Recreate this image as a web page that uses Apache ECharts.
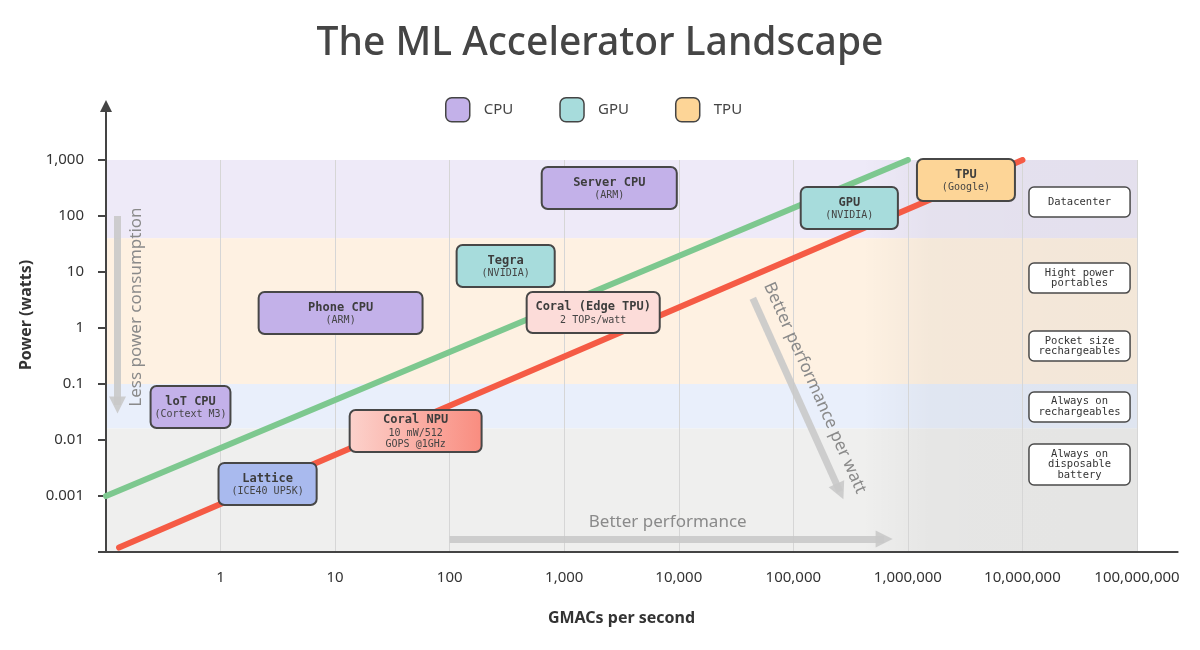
<!DOCTYPE html>
<html lang="en">
<head>
<meta charset="UTF-8">
<script src="https://cdn.jsdelivr.net/npm/echarts@6/dist/echarts.min.js"></script>
<title>The ML Accelerator Landscape</title>
<style>html,body{margin:0;padding:0;background:#fff;}</style>
</head>
<body>
<div id="main" style="width:1200px;height:650px;"></div>
<script type="text/javascript">
// axis tick labels (decades)
var xTickLabels = ['1', '10', '100', '1,000', '10,000', '100,000', '1,000,000', '10,000,000', '100,000,000'];
var yTickLabels = ['0.001', '0.01', '0.1', '1', '10', '100', '1,000'];

// accelerators: [GMACs from, GMACs to, watts from, watts to]
var cpuNames = ['Server CPU', 'Phone CPU', 'loT CPU'];
var cpuNotes = ['(ARM)', '(ARM)', '(Cortext M3)'];
var cpuBoxes = [[636, 9610, 133, 750], [2.15, 58, 0.78, 4.4], [0.245, 1.22, 0.0164, 0.092]];

var gpuNames = ['GPU', 'Tegra'];
var gpuNotes = ['(NVIDIA)', '(NVIDIA)'];
var gpuBoxes = [[116000, 818000, 58.6, 330], [115, 826, 5.4, 30.3]];

var tpuNames = ['TPU'];
var tpuNotes = ['(Google)'];
var tpuBoxes = [[1.2e6, 8.6e6, 185, 1040]];

var otherNames = ['Coral (Edge TPU)', 'Coral NPU', 'Lattice'];
var otherNotes = ['2 TOPs/watt', '10 mW/512\nGOPS @1GHz', '(ICE40 UP5K)'];
var otherBoxes = [[470, 6820, 0.815, 4.4], [13.4, 190, 0.0061, 0.0343], [0.96, 6.9, 0.00069, 0.0039]];

// power classes on the right
var classNames = ['Datacenter', 'Hight power\nportables', 'Pocket size\nrechargeables', 'Always on\nrechargeables', 'Always on\ndisposable\nbattery'];
var classBoxes = [[1.14e7, 8.7e7, 96, 330], [1.14e7, 8.7e7, 4.2, 14.5], [1.14e7, 8.7e7, 0.258, 0.88],
                  [1.14e7, 8.7e7, 0.021, 0.072], [1.14e7, 8.7e7, 0.00157, 0.0085]];

// background bands (watts)
var bandLow = [40, 0.1, 0.016, 0.0001];
var bandHigh = [1000, 40, 0.1, 0.016];

// efficiency trend lines
var greenLine = [[0.1, 0.001], [1e6, 1000]];
var redLine = [[0.13, 0.00012], [1e7, 1000]];

// annotations
var noteTexts = ['Less power consumption', 'Better performance', 'Better performance per watt'];
var notePoints = [[0.185, 2.37], [8010, 0.00034], [154000, 0.085]];
var noteAngles = [90, 0, -66];
var arrowPaths = [
    [[0.126, 100], [0.126, 0.042]],
    [[100, 0.00017], [620000, 0.00017]],
    [[44300, 3.4], [255000, 0.0012]]
];

var X_MIN = 0.1, X_MAX = 1e8, Y_MIN = 1e-4, Y_MAX = 1e3;
var SANS = "'Noto Sans', 'Open Sans', sans-serif";
var MONO = "'DejaVu Sans Mono', monospace";
var bandColors = ['#EEEAF8', '#FEF1E2', '#E9EFFB', '#EFEFEE'];
var otherFills = ['#FCDCD9',
    new echarts.graphic.LinearGradient(0, 0, 1, 0, [{offset: 0, color: '#FCD2CC'}, {offset: 1, color: '#F98C7F'}]),
    '#A9BAEE'];

function boxRenderer(names, notes, fills) {
    return function (params, api) {
        var i = params.dataIndex;
        var a = api.coord([api.value(0), api.value(3)]);
        var b = api.coord([api.value(1), api.value(2)]);
        var txt = '{t|' + names[i] + '}';
        notes[i].split('\n').forEach(function (s) { txt += '\n{s|' + s + '}'; });
        return {
            type: 'group',
            children: [{
                type: 'rect',
                shape: {x: a[0], y: a[1], width: b[0] - a[0], height: b[1] - a[1], r: 6},
                style: {fill: fills ? fills[i] : api.visual('color'), stroke: '#474747', lineWidth: 2}
            }, {
                type: 'text',
                x: (a[0] + b[0]) / 2, y: (a[1] + b[1]) / 2,
                style: {
                    text: txt, align: 'center', verticalAlign: 'middle',
                    rich: {
                        t: {fontFamily: MONO, fontWeight: 'bold', fontSize: 12, fill: '#3d3d3d', lineHeight: 15},
                        s: {fontFamily: MONO, fontSize: 10, fill: '#444', lineHeight: 11}
                    }
                }
            }]
        };
    };
}

function classRenderer(params, api) {
    var i = params.dataIndex;
    var a = api.coord([api.value(0), api.value(3)]);
    var b = api.coord([api.value(1), api.value(2)]);
    return {
        type: 'group',
        children: [{
            type: 'rect',
            shape: {x: a[0], y: a[1], width: b[0] - a[0], height: b[1] - a[1], r: 5},
            style: {fill: '#fff', stroke: '#4a4a4a', lineWidth: 1.5}
        }, {
            type: 'text',
            x: (a[0] + b[0]) / 2, y: (a[1] + b[1]) / 2,
            style: {text: classNames[i], align: 'center', verticalAlign: 'middle',
                    fontFamily: MONO, fontSize: 10.5, lineHeight: 10.5, fill: '#333'}
        }]
    };
}

function bandRenderer(params, api) {
    var a = api.coord([X_MIN, api.value(1)]);
    var b = api.coord([X_MAX, api.value(0)]);
    return {
        type: 'rect',
        shape: {x: a[0], y: a[1], width: b[0] - a[0], height: b[1] - a[1]},
        style: {fill: bandColors[params.dataIndex]}
    };
}

function shadeRenderer(params, api) {
    var a = api.coord([api.value(0), Y_MAX]);
    var b = api.coord([api.value(1), Y_MIN]);
    return {
        type: 'rect',
        shape: {x: a[0], y: a[1], width: b[0] - a[0], height: b[1] - a[1]},
        style: {fill: new echarts.graphic.LinearGradient(0, 0, 1, 0, [
            {offset: 0, color: 'rgba(0,0,0,0)'}, {offset: 0.25, color: 'rgba(0,0,0,0.04)'}, {offset: 1, color: 'rgba(0,0,0,0.045)'}])}
    };
}

function noteRenderer(params, api) {
    var i = params.dataIndex;
    var p = api.coord([api.value(0), api.value(1)]);
    return {
        type: 'text', x: p[0], y: p[1], rotation: noteAngles[i] * Math.PI / 180,
        style: {text: noteTexts[i], align: 'center', verticalAlign: 'middle',
                fontFamily: SANS, fontSize: 17, fill: '#8a8a8a'}
    };
}

var chart = echarts.init(document.getElementById('main'));
chart.setOption({
    animation: false,
    title: {
        text: 'The ML Accelerator Landscape',
        left: 'center', top: 19,
        textStyle: {fontFamily: SANS, fontSize: 39, fontWeight: 500, color: '#454545'}
    },
    legend: {
        data: ['CPU', 'GPU', 'TPU'],
        top: 92, left: 440,
        icon: 'roundRect', itemWidth: 24, itemHeight: 24, itemGap: 46,
        itemStyle: {borderColor: '#444', borderWidth: 1.5},
        textStyle: {fontFamily: SANS, fontSize: 15, color: '#444', padding: [0, 0, 0, 9]}
    },
    grid: {left: 106, right: 63, top: 160, bottom: 98},
    xAxis: {
        type: 'log', logBase: 10, min: X_MIN, max: X_MAX, z: 3,
        axisLine: {lineStyle: {color: '#444', width: 2}},
        axisTick: {show: false},
        axisLabel: {
            margin: 18, color: '#333', fontSize: 15, fontFamily: SANS,
            formatter: function (v) {
                var k = Math.round(Math.log10(v));
                return k >= 0 ? xTickLabels[k] : '';
            }
        },
        splitLine: {show: true, lineStyle: {color: '#d6d6d6', width: 1}},
        name: 'GMACs per second', nameLocation: 'middle', nameGap: 58,
        nameTextStyle: {fontFamily: SANS, fontSize: 16, fontWeight: 'bold', color: '#333'}
    },
    yAxis: {
        type: 'log', logBase: 10, min: Y_MIN, max: Y_MAX, z: 3,
        axisLine: {lineStyle: {color: '#444', width: 2}},
        axisTick: {show: true, length: 8, lineStyle: {color: '#444', width: 2}},
        axisLabel: {
            margin: 22, color: '#333', fontSize: 15, fontFamily: SANS,
            formatter: function (v) {
                var k = Math.round(Math.log10(v)) + 3;
                return k >= 0 ? yTickLabels[k] : '';
            }
        },
        splitLine: {show: false},
        name: 'Power (watts)', nameLocation: 'middle', nameGap: 68, nameRotate: 90,
        nameTextStyle: {fontFamily: SANS, fontSize: 16, fontWeight: 'bold', color: '#333', padding: [0, 0, 0, 82]}
    },
    series: [
        {type: 'custom', name: 'bands', z: 1, silent: true, renderItem: bandRenderer,
         encode: {y: [0, 1]}, data: bandLow.map(function (v, i) { return [v, bandHigh[i]]; })},
        {type: 'custom', name: 'shade', z: 1, silent: true, renderItem: shadeRenderer,
         encode: {x: [0, 1]}, data: [[4e5, X_MAX]]},
        {type: 'lines', name: 'yAxisExt', coordinateSystem: 'cartesian2d', clip: false, z: 3, silent: true,
         symbol: ['none', 'triangle'], symbolSize: 12,
         lineStyle: {color: '#444', width: 2, opacity: 1},
         data: [{coords: [[X_MIN, Y_MAX], [X_MIN, 9200]]}]},
        {type: 'lines', name: 'xAxisExt', coordinateSystem: 'cartesian2d', clip: false, z: 3, silent: true,
         symbol: 'none',
         lineStyle: {color: '#444', width: 2, opacity: 1},
         data: [{coords: [[X_MAX, Y_MIN], [2.3e8, Y_MIN]]}]},
        {type: 'line', name: 'green', data: greenLine, showSymbol: false, z: 4, silent: true,
         lineStyle: {color: '#7DC88F', width: 6, cap: 'round'}},
        {type: 'line', name: 'red', data: redLine, showSymbol: false, z: 4, silent: true,
         lineStyle: {color: '#F55B45', width: 6, cap: 'round'}},
        {type: 'lines', name: 'arrows', coordinateSystem: 'cartesian2d', z: 4, silent: true,
         symbol: ['none', 'triangle'], symbolSize: 17,
         lineStyle: {color: '#c9c9c9', width: 7, opacity: 0.9},
         data: arrowPaths.map(function (p) { return {coords: p}; })},
        {type: 'custom', name: 'notes', z: 5, silent: true, renderItem: noteRenderer,
         encode: {x: 0, y: 1}, data: notePoints},
        {type: 'custom', name: 'CPU', z: 6, itemStyle: {color: '#C3B1E9'},
         renderItem: boxRenderer(cpuNames, cpuNotes), encode: {x: [0, 1], y: [2, 3]}, data: cpuBoxes},
        {type: 'custom', name: 'GPU', z: 6, itemStyle: {color: '#A7DCDC'},
         renderItem: boxRenderer(gpuNames, gpuNotes), encode: {x: [0, 1], y: [2, 3]}, data: gpuBoxes},
        {type: 'custom', name: 'TPU', z: 6, itemStyle: {color: '#FDD597'},
         renderItem: boxRenderer(tpuNames, tpuNotes), encode: {x: [0, 1], y: [2, 3]}, data: tpuBoxes},
        {type: 'custom', name: 'other', z: 6,
         renderItem: boxRenderer(otherNames, otherNotes, otherFills), encode: {x: [0, 1], y: [2, 3]}, data: otherBoxes},
        {type: 'custom', name: 'classes', z: 6, silent: true,
         renderItem: classRenderer, encode: {x: [0, 1], y: [2, 3]}, data: classBoxes}
    ]
});
</script>
</body>
</html>
